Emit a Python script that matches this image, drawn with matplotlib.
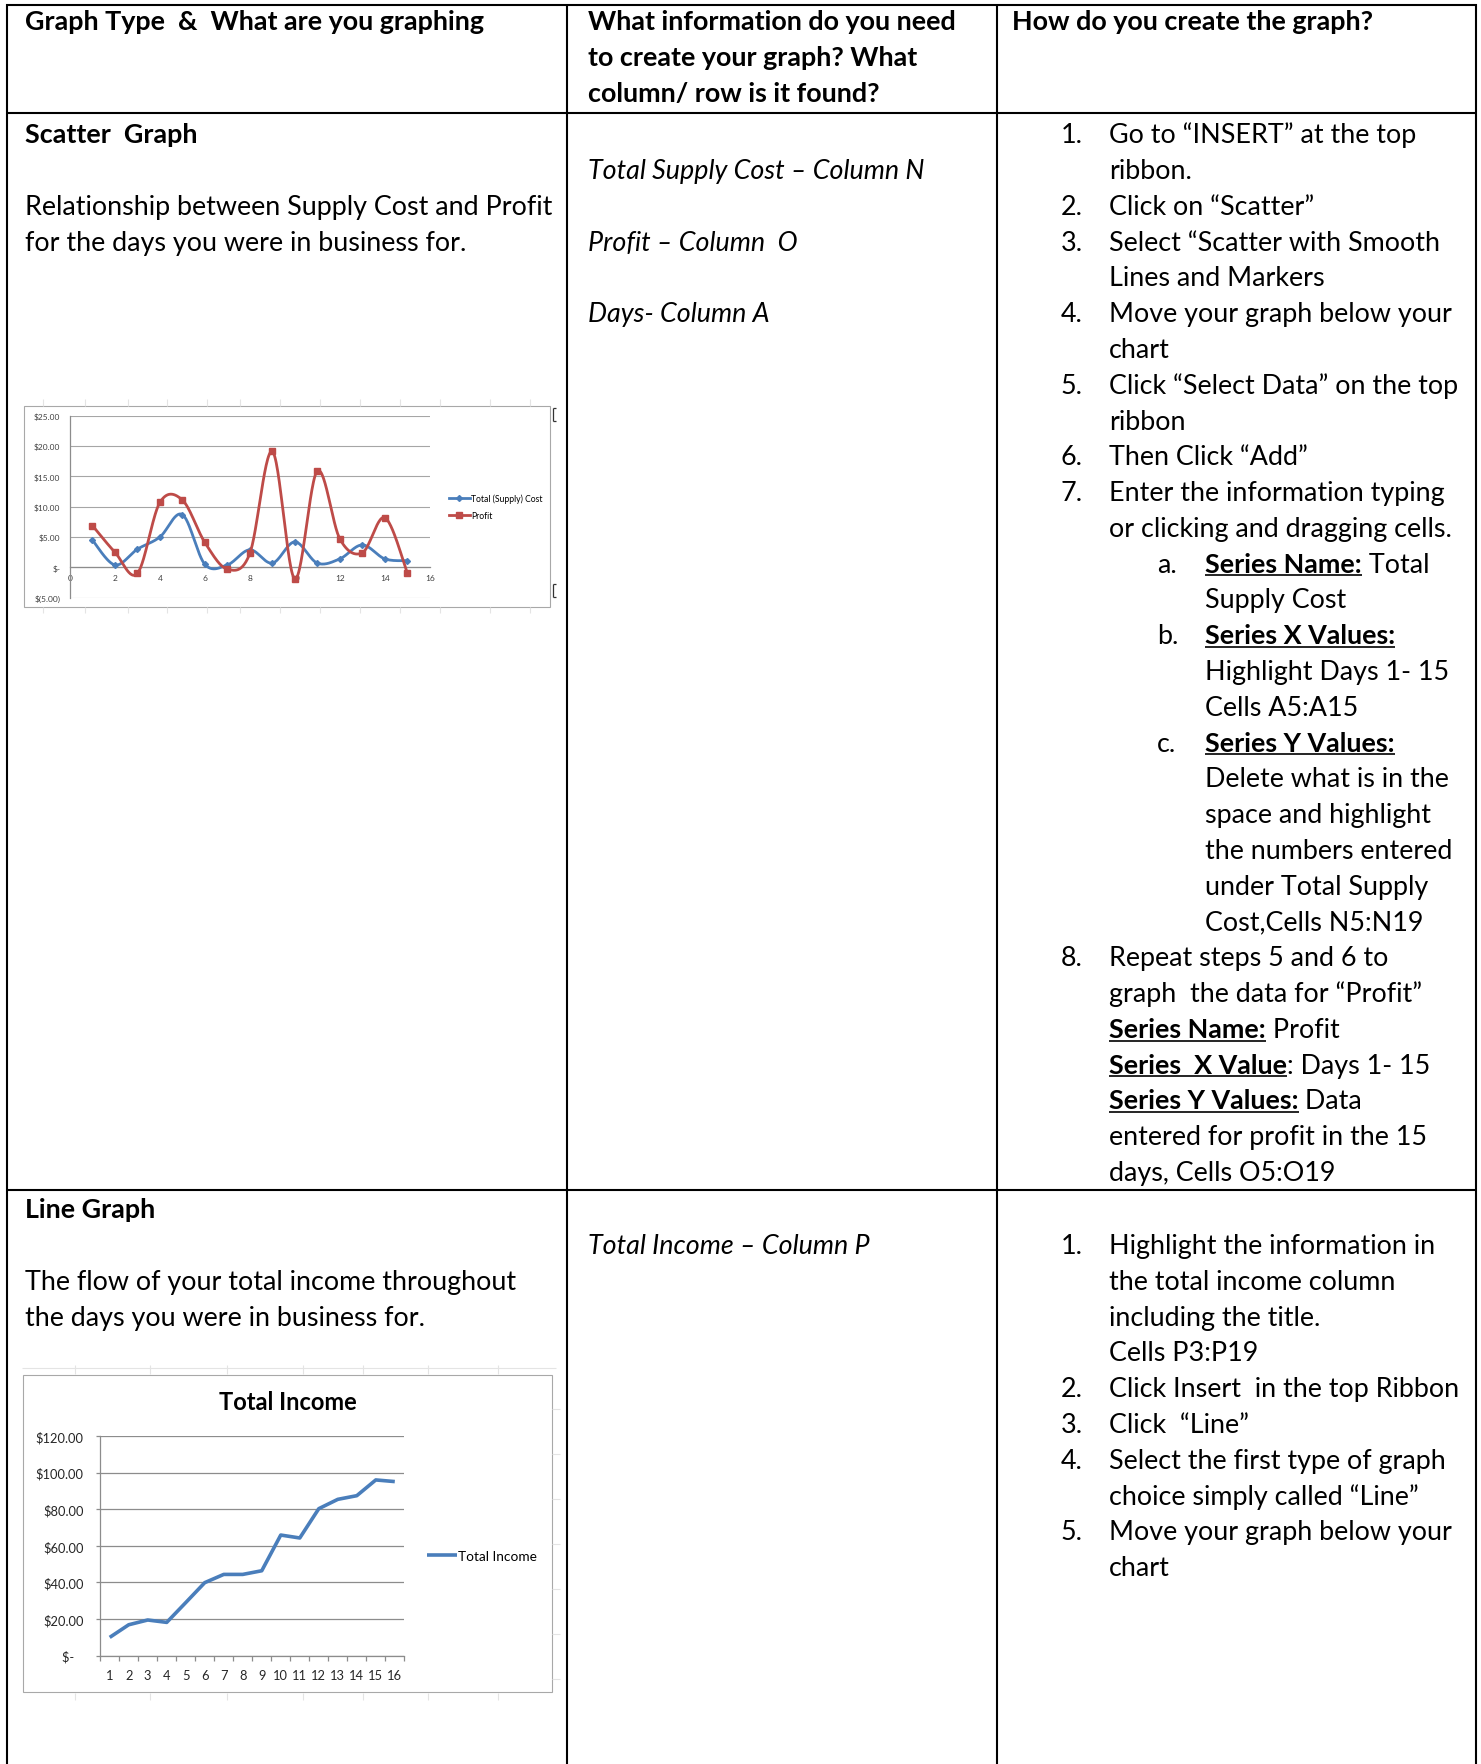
import numpy as np
import matplotlib
matplotlib.use("Agg")
import matplotlib.pyplot as plt
from matplotlib.lines import Line2D
from matplotlib.patches import Rectangle

# ---- data ---------------------------------------------------------------
scatter_days = [1, 2, 3, 4, 5, 6, 7, 8, 9, 10, 11, 12, 13, 14, 15]
supply_cost = [4.5, 0.4, 3.0, 5.0, 8.7, 0.5, 0.4, 2.9, 0.7, 4.2, 0.7, 1.4, 3.7, 1.4, 1.1]
profit = [6.9, 2.5, -1.0, 10.7, 11.1, 4.1, -0.3, 2.3, 19.1, -1.9, 15.9, 4.7, 2.4, 8.2, -0.9]
scatter_xticks = [0, 2, 4, 6, 8, 10, 12, 14, 16]
scatter_yticks = [-5, 0, 5, 10, 15, 20, 25]
scatter_ylabels = ["$(5.00)", "$-", "$5.00", "$10.00", "$15.00", "$20.00", "$25.00"]
scatter_series = ["Total (Supply) Cost", "Profit"]

income_days = [1, 2, 3, 4, 5, 6, 7, 8, 9, 10, 11, 12, 13, 14, 15, 16]
total_income = [10.0, 16.9, 19.5, 18.2, 29.0, 39.9, 44.4, 44.4, 46.4, 65.9,
                64.3, 80.3, 85.4, 87.4, 96.0, 95.1]
income_yticks = [0, 20, 40, 60, 80, 100, 120]
income_ylabels = ["$-   ", "$20.00", "$40.00", "$60.00", "$80.00", "$100.00", "$120.00"]

header_col1 = ["Graph Type  &  What are you graphing"]
header_col2 = ["What information do you need", "to create your graph? What",
               "column/ row is it found?"]
header_col3 = ["How do you create the graph?"]

# (line index, text, bold)
row1_col1 = [(0, "Scatter  Graph", True),
             (2, "Relationship between Supply Cost and Profit", False),
             (3, "for the days you were in business for.", False)]
row1_col2 = [(1, "Total Supply Cost – Column N"),
             (3, "Profit – Column  O"),
             (5, "Days- Column A")]
# (marker, level, text)  **...** = bold + underline
row1_col3 = [
    ("1.", 1, "Go to “INSERT” at the top"),
    ("", 1, "ribbon."),
    ("2.", 1, "Click on “Scatter”"),
    ("3.", 1, "Select “Scatter with Smooth"),
    ("", 1, "Lines and Markers"),
    ("4.", 1, "Move your graph below your"),
    ("", 1, "chart"),
    ("5.", 1, "Click “Select Data” on the top"),
    ("", 1, "ribbon"),
    ("6.", 1, "Then Click “Add”"),
    ("7.", 1, "Enter the information typing"),
    ("", 1, "or clicking and dragging cells."),
    ("a.", 2, "**Series Name:** Total"),
    ("", 2, "Supply Cost"),
    ("b.", 2, "**Series X Values:**"),
    ("", 2, "Highlight Days 1- 15"),
    ("", 2, "Cells A5:A15"),
    ("c.", 2, "**Series Y Values:**"),
    ("", 2, "Delete what is in the"),
    ("", 2, "space and highlight"),
    ("", 2, "the numbers entered"),
    ("", 2, "under Total Supply"),
    ("", 2, "Cost,Cells N5:N19"),
    ("8.", 1, "Repeat steps 5 and 6 to"),
    ("", 1, "graph  the data for “Profit”"),
    ("", 1, "**Series Name:** Profit"),
    ("", 1, "**Series  X Value**: Days 1- 15"),
    ("", 1, "**Series Y Values:** Data"),
    ("", 1, "entered for profit in the 15"),
    ("", 1, "days, Cells O5:O19"),
]

row2_col1 = [(0, "Line Graph", True),
             (2, "The flow of your total income throughout", False),
             (3, "the days you were in business for.", False)]
row2_col2 = [(1, "Total Income – Column P")]
row2_col3 = [
    ("", 1, ""),
    ("1.", 1, "Highlight the information in"),
    ("", 1, "the total income column"),
    ("", 1, "including the title."),
    ("", 1, "Cells P3:P19"),
    ("2.", 1, "Click Insert  in the top Ribbon"),
    ("3.", 1, "Click  “Line”"),
    ("4.", 1, "Select the first type of graph"),
    ("", 1, "choice simply called “Line”"),
    ("5.", 1, "Move your graph below your"),
    ("", 1, "chart"),
]

# ---- page setup ---------------------------------------------------------
W, H = 1481, 1765
FONT = "Lato"
BLUE = "#4A7EBB"
RED = "#BE4B48"
AXIS_GRAY = "#8c8c8c"
GRID_GRAY = "#a6a6a6"
FAINT = "#e4e4e4"

fig = plt.figure(figsize=(W / 100, H / 100), dpi=100)
renderer = fig.canvas.get_renderer()


def fx(x):
    return x / W


def fy(y):
    return 1 - y / H


def hline(x0, x1, y, color="black", lw=1.5):
    fig.add_artist(Line2D([fx(x0), fx(x1)], [fy(y), fy(y)], color=color, lw=lw,
                          transform=fig.transFigure, solid_capstyle="butt"))


def vline(x, y0, y1, color="black", lw=1.5):
    fig.add_artist(Line2D([fx(x), fx(x)], [fy(y0), fy(y1)], color=color, lw=lw,
                          transform=fig.transFigure, solid_capstyle="butt"))


def text_width(s, size, weight="normal", style="normal"):
    t = fig.text(0, 0, "|" + s + "|", fontsize=size, family=FONT, weight=weight, style=style)
    w1 = t.get_window_extent(renderer).width
    t.set_text("||")
    w0 = t.get_window_extent(renderer).width
    t.remove()
    return w1 - w0


# fit body font so a reference line matches the page width of the original
FS = 20 * 528 / text_width("Relationship between Supply Cost and Profit", 20)


def put(x, y, s, weight="normal", style="normal"):
    fig.text(fx(x), fy(y), s, fontsize=FS, family=FONT, weight=weight, style=style,
             va="baseline", ha="left", color="black")


def put_marked(x, y, s):
    parts = s.split("**")
    for i, part in enumerate(parts):
        if not part:
            continue
        bold = i % 2 == 1
        weight = "bold" if bold else "normal"
        put(x, y, part, weight=weight)
        w = text_width(part, FS, weight)
        if bold:
            hline(x, x + text_width(part.rstrip(), FS, weight), y + 3.8, lw=1.2)
        x += w


# ---- table grid -------------------------------------------------------------
COL_X = [7, 567, 997, 1476]
ROW_Y = [6, 113.5, 1191]
for y in ROW_Y:
    hline(COL_X[0] - 1, COL_X[-1] + 1, y)
for x in COL_X:
    vline(x, ROW_Y[0] - 1, H)

PITCH = 35.78
TX = [25, 588, 1012]
NUM_X, NUM_TX, SUB_X, SUB_TX = 1061, 1109, 1157, 1205

# header
hb = 30.5
put(TX[0], hb, header_col1[0], weight="bold")
for i, s in enumerate(header_col2):
    put(TX[1], hb + i * PITCH, s, weight="bold")
put(TX[2], hb, header_col3[0], weight="bold")


def fill_row(base, col1, col2, col3):
    for n, s, bold in col1:
        put(TX[0], base + n * PITCH, s, weight="bold" if bold else "normal")
    for n, s in col2:
        put(TX[1], base + n * PITCH, s, style="italic")
    for n, (mark, level, s) in enumerate(col3):
        y = base + n * PITCH
        mx, tx = (NUM_X, NUM_TX) if level == 1 else (SUB_X, SUB_TX)
        if mark:
            put(mx, y, mark)
        if s:
            put_marked(tx, y, s)


fill_row(143.3, row1_col1, row1_col2, row1_col3)
fill_row(1218.3, row2_col1, row2_col2, row2_col3)


# ---- embedded chart 1: scatter with smooth lines ------------------------------
def smooth_curve(xs, ys, steps=30):
    p = np.column_stack([xs, ys]).astype(float)
    p = np.vstack([p[0], p, p[-1]])
    t = np.linspace(0, 1, steps)[:, None]
    segs = []
    for i in range(1, len(p) - 2):
        p0, p1, p2, p3 = p[i - 1], p[i], p[i + 1], p[i + 2]
        c1 = p1 + (p2 - p0) / 6
        c2 = p2 - (p3 - p1) / 6
        seg = ((1 - t) ** 3 * p1 + 3 * (1 - t) ** 2 * t * c1
               + 3 * (1 - t) * t ** 2 * c2 + t ** 3 * p2)
        segs.append(seg if i == 1 else seg[1:])
    c = np.vstack(segs)
    return c[:, 0], c[:, 1], list(range(0, len(c), steps - 1))


# faint spreadsheet cells around the pasted chart
for x in [43, 85, 128, 167, 207, 240, 280, 320, 360, 400, 440, 490, 530]:
    vline(x, 400, 407, color=FAINT, lw=0.8)
    vline(x, 608, 614, color=FAINT, lw=0.8)
fig.add_artist(Rectangle((fx(24), fy(608)), (550 - 24) / W, (608 - 407) / H,
                         transform=fig.transFigure, facecolor="white",
                         edgecolor="#a8a8a8", lw=0.8, zorder=-1))
for y0 in [409, 585]:
    vline(553, y0, y0 + 13, color="#333333", lw=0.9)
    hline(553, 556, y0, color="#333333", lw=0.9)
    hline(553, 556, y0 + 13, color="#333333", lw=0.9)

ax1 = fig.add_axes([fx(69.9), fy(598.7), (429.8 - 69.9) / W, (598.7 - 416.7) / H])
ax1.set_zorder(5)
sx, sy, mk = smooth_curve(scatter_days, supply_cost)
ax1.plot(sx, sy, color=BLUE, lw=2.0, marker="D", markersize=3.0, markevery=mk,
         label=scatter_series[0], zorder=3)
px, py, mk = smooth_curve(scatter_days, profit)
ax1.plot(px, py, color=RED, lw=2.0, marker="s", markersize=4.0, markevery=mk,
         label=scatter_series[1], zorder=3)
ax1.set_xlim(0, 16)
ax1.set_ylim(-5, 25)
ax1.set_xticks(scatter_xticks)
ax1.set_yticks(scatter_yticks)
ax1.set_yticklabels(scatter_ylabels)
ax1.grid(axis="y", color=GRID_GRAY, lw=0.8)
ax1.set_axisbelow(True)
ax1.spines[["top", "right"]].set_visible(False)
ax1.spines["bottom"].set_position(("data", 0))
for sp in ("left", "bottom"):
    ax1.spines[sp].set_color(AXIS_GRAY)
    ax1.spines[sp].set_linewidth(0.9)
ax1.tick_params(axis="x", length=0, pad=5, labelsize=6.0, labelcolor="#404040")
ax1.tick_params(axis="y", length=0, pad=7, labelsize=6.0, labelcolor="#404040")
for lbl in ax1.get_xticklabels() + ax1.get_yticklabels():
    lbl.set_family(FONT)
ax1.patch.set_alpha(0)
ax1.legend(loc="center left", bbox_to_anchor=(fx(448.7), fy(508)),
           bbox_transform=fig.transFigure, frameon=False, borderpad=0,
           borderaxespad=0, handlelength=2.5, handletextpad=0.1, labelspacing=0.95,
           prop={"family": FONT, "size": 6.2})

# ---- embedded chart 2: line -----------------------------------------------
for x in [75, 150, 227, 303, 363, 428, 498]:
    vline(x, 1366, 1375, color=FAINT, lw=0.8)
    vline(x, 1694, 1701, color=FAINT, lw=0.8)
for y in [1410, 1455, 1500, 1545, 1590, 1635, 1680]:
    hline(552, 560, y, color=FAINT, lw=0.8)
hline(22, 556, 1369, color=FAINT, lw=0.8)
fig.add_artist(Rectangle((fx(23.4), fy(1693)), (552 - 23.4) / W, (1693 - 1375.7) / H,
                         transform=fig.transFigure, facecolor="white",
                         edgecolor="#a8a8a8", lw=0.8, zorder=-1))

ax2 = fig.add_axes([fx(100.2), fy(1656.7), (404.3 - 100.2) / W, (1656.7 - 1437) / H])
ax2.set_zorder(5)
ax2.plot(income_days, total_income, color=BLUE, lw=2.6, solid_joinstyle="round",
         solid_capstyle="butt", label="Total Income", zorder=3)
ax2.set_xlim(0.5, len(income_days) + 0.5)
ax2.set_ylim(0, 120)
ax2.set_yticks(income_yticks)
ax2.set_yticklabels(income_ylabels)
ax2.set_xticks(np.arange(0.5, len(income_days) + 1, 1))
ax2.set_xticklabels([])
ax2.set_xticks(income_days, minor=True)
ax2.set_xticklabels([str(d) for d in income_days], minor=True)
ax2.grid(axis="y", color=AXIS_GRAY, lw=0.9)
ax2.set_axisbelow(True)
ax2.spines[["top", "right"]].set_visible(False)
for sp in ("left", "bottom"):
    ax2.spines[sp].set_color(AXIS_GRAY)
    ax2.spines[sp].set_linewidth(0.9)
ax2.tick_params(axis="x", which="major", length=3.8, width=0.9, color=AXIS_GRAY)
ax2.tick_params(axis="x", which="minor", length=0, pad=9.5, labelsize=9.3, labelcolor="#262626")
ax2.tick_params(axis="y", length=3, width=0.9, color=AXIS_GRAY, pad=9,
                labelsize=9.3, labelcolor="#262626")
for lbl in (ax2.get_xticklabels(minor=True) + ax2.get_yticklabels()):
    lbl.set_family(FONT)
ax2.patch.set_alpha(0)
fig.text(fx(288), fy(1403), "Total Income", fontsize=17, family=FONT, weight="bold",
         ha="center", va="center")
ax2.legend(loc="center left", bbox_to_anchor=(fx(427), fy(1557)),
           bbox_transform=fig.transFigure, frameon=False, borderpad=0,
           borderaxespad=0, handlelength=2.2, handletextpad=0.1,
           prop={"family": FONT, "size": 9.8})

fig.savefig("out.png", dpi=100)
